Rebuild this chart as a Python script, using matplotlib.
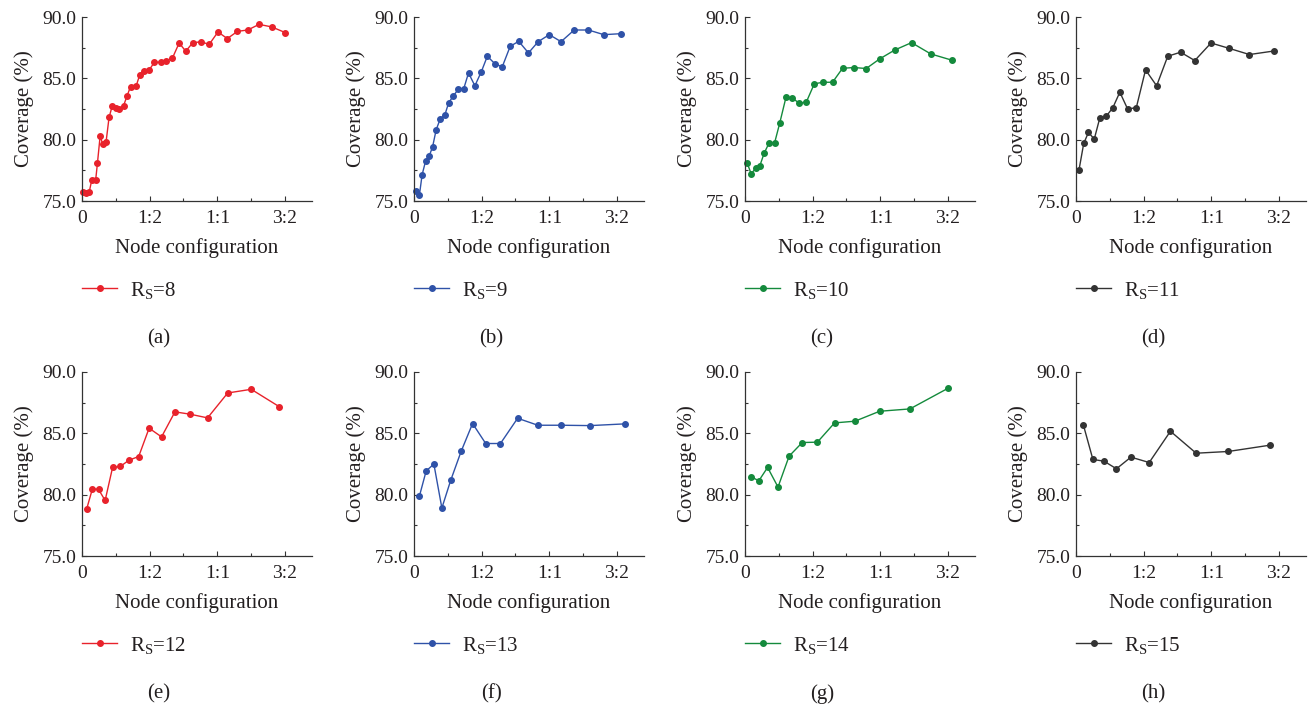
import matplotlib
matplotlib.use("Agg")
import matplotlib.pyplot as plt
from matplotlib.ticker import MultipleLocator

plt.rcParams["font.family"] = ["Liberation Serif", "DejaVu Serif"]
plt.rcParams["mathtext.fontset"] = "custom"
plt.rcParams["mathtext.rm"] = "Liberation Serif"
plt.rcParams["mathtext.it"] = "Liberation Serif:italic"

# ---------- data (x = node ratio, y = coverage %) ----------
x_rs8 = [0.010, 0.030, 0.054, 0.072, 0.101, 0.114, 0.134, 0.153, 0.178, 0.200, 0.223, 0.250,
         0.277, 0.307, 0.334, 0.359, 0.401, 0.426, 0.455, 0.495, 0.535, 0.584, 0.624, 0.668,
         0.718, 0.767, 0.819, 0.876, 0.941, 1.005, 1.074, 1.149, 1.225, 1.309, 1.403, 1.502]
y_rs8 = [75.76, 75.63, 75.76, 76.71, 76.71, 78.07, 80.29, 79.64, 79.83, 81.81, 82.73, 82.62,
         82.46, 82.76, 83.60, 84.33, 84.41, 85.25, 85.63, 85.66, 86.31, 86.31, 86.45, 86.64,
         87.88, 87.21, 87.91, 87.97, 87.78, 88.78, 88.24, 88.83, 88.94, 89.40, 89.19, 88.73]

x_rs9 = [0.015, 0.040, 0.060, 0.085, 0.112, 0.137, 0.164, 0.194, 0.229, 0.256, 0.291, 0.326,
         0.368, 0.403, 0.450, 0.498, 0.542, 0.597, 0.652, 0.711, 0.774, 0.846, 0.918, 1.000,
         1.087, 1.184, 1.289, 1.403, 1.530]
y_rs9 = [75.84, 75.49, 77.14, 78.23, 78.66, 79.40, 80.81, 81.70, 82.05, 83.00, 83.57, 84.09,
         84.17, 85.44, 84.39, 85.55, 86.80, 86.20, 85.93, 87.61, 88.02, 87.07, 87.99, 88.56,
         87.99, 88.94, 88.94, 88.56, 88.64]

x_rs10 = [0.017, 0.045, 0.080, 0.109, 0.142, 0.179, 0.219, 0.256, 0.303, 0.351, 0.400, 0.453,
          0.512, 0.575, 0.647, 0.721, 0.806, 0.896, 0.995, 1.107, 1.231, 1.373, 1.532]
y_rs10 = [78.07, 77.23, 77.66, 77.85, 78.91, 79.75, 79.75, 81.32, 83.46, 83.38, 82.98, 83.06,
          84.55, 84.68, 84.68, 85.82, 85.88, 85.80, 86.58, 87.31, 87.91, 86.99, 86.47]

x_rs11 = [0.022, 0.057, 0.092, 0.135, 0.175, 0.222, 0.272, 0.324, 0.382, 0.446, 0.514, 0.596,
          0.678, 0.773, 0.878, 0.998, 1.130, 1.282, 1.464]
y_rs11 = [77.52, 79.69, 80.59, 80.05, 81.73, 81.89, 82.60, 83.87, 82.49, 82.62, 85.69, 84.39,
          86.80, 87.13, 86.45, 87.88, 87.45, 86.94, 87.23]

x_rs12 = [0.035, 0.077, 0.122, 0.171, 0.226, 0.283, 0.347, 0.419, 0.496, 0.588, 0.687, 0.799,
          0.928, 1.077, 1.251, 1.457]
y_rs12 = [78.85, 80.48, 80.43, 79.53, 82.22, 82.30, 82.81, 83.11, 85.42, 84.71, 86.75, 86.56,
          86.26, 88.29, 88.59, 87.18]

x_rs13 = [0.040, 0.090, 0.147, 0.206, 0.271, 0.348, 0.433, 0.530, 0.639, 0.766, 0.915, 1.090,
          1.301, 1.557]
y_rs13 = [79.88, 81.94, 82.49, 78.91, 81.16, 83.52, 85.80, 84.17, 84.17, 86.23, 85.66, 85.66,
          85.63, 85.77]

x_rs14 = [0.042, 0.102, 0.167, 0.244, 0.326, 0.423, 0.535, 0.662, 0.813, 0.995, 1.219, 1.500]
y_rs14 = [81.48, 81.13, 82.22, 80.62, 83.14, 84.25, 84.28, 85.85, 85.99, 86.80, 86.99, 88.67]

x_rs15 = [0.055, 0.125, 0.207, 0.299, 0.406, 0.541, 0.698, 0.888, 1.125, 1.431]
y_rs15 = [85.66, 82.87, 82.73, 82.11, 83.06, 82.62, 85.17, 83.38, 83.52, 84.03]

rs_values = [8, 9, 10, 11, 12, 13, 14, 15]
panel_tags = ["(a)", "(b)", "(c)", "(d)", "(e)", "(f)", "(g)", "(h)"]
xs = [x_rs8, x_rs9, x_rs10, x_rs11, x_rs12, x_rs13, x_rs14, x_rs15]
ys = [y_rs8, y_rs9, y_rs10, y_rs11, y_rs12, y_rs13, y_rs14, y_rs15]

x_ticks = [0, 0.5, 1.0, 1.5]
x_tick_labels = ["0", "1:2", "1:1", "3:2"]
y_ticks = [75, 80, 85, 90]

colors = ["#e8222b", "#2f52a8", "#148a3c", "#333333"]
text_color = "#231f20"

# ---------- layout (pixel positions of the axes in the 1309x705 figure) ----------
W, H = 1309, 705
col_left = [82, 414, 745, 1076]
row_bottom = [201, 556]
ax_w, ax_h = 230, 184

fig = plt.figure(figsize=(W / 100, H / 100), dpi=100)

for i, (rs, tag, x, y) in enumerate(zip(rs_values, panel_tags, xs, ys)):
    r, c = divmod(i, 4)
    ax = fig.add_axes([col_left[c] / W, (H - row_bottom[r]) / H, ax_w / W, ax_h / H])
    col = colors[c]
    ax.plot(x, y, color=col, lw=1.0, marker="o", ms=4.0, mec=col, mfc=col,
            label=r"R$_\mathrm{S}$=" + str(rs), clip_on=False)

    ax.set_xlim(0, 1.7)
    ax.set_ylim(75, 90)
    ax.set_xticks(x_ticks)
    ax.set_xticklabels(x_tick_labels)
    ax.set_yticks(y_ticks)
    ax.set_yticklabels([f"{v:.1f}" for v in y_ticks])
    ax.xaxis.set_minor_locator(MultipleLocator(0.25))
    ax.yaxis.set_minor_locator(MultipleLocator(2.5))
    ax.tick_params(which="both", direction="in", colors="#333333", labelcolor=text_color,
                   labelsize=14, width=0.8)
    ax.tick_params(which="major", length=3.5)
    ax.tick_params(which="minor", length=2)
    ax.tick_params(axis="x", which="major", pad=6.5)
    ax.tick_params(axis="y", which="major", pad=4)

    for s in ["top", "right"]:
        ax.spines[s].set_visible(False)
    for s in ["left", "bottom"]:
        ax.spines[s].set_color("#333333")
        ax.spines[s].set_linewidth(0.9)

    ax.set_xlabel("Node configuration", fontsize=15, color=text_color, labelpad=8)
    ax.set_ylabel("Coverage (%)", fontsize=15, color=text_color, labelpad=6)

    ax.legend(loc="center left", bbox_to_anchor=(0.0, -0.484), frameon=False,
              fontsize=15, handlelength=1.7, handletextpad=0.6, borderpad=0,
              borderaxespad=0, labelcolor=text_color)
    ax.text(0.335, -0.75, tag, transform=ax.transAxes, ha="center", va="center",
            fontsize=15, color=text_color)

fig.savefig("out.png", dpi=100)
